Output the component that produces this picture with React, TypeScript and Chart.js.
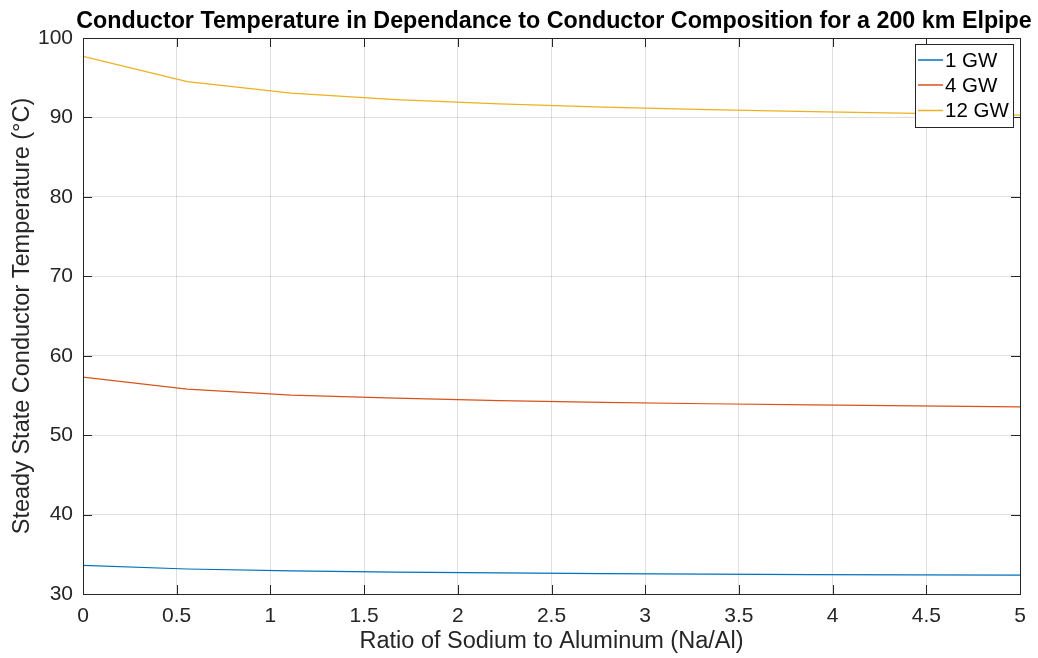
import React, { useEffect, useRef } from "react";
import { Chart, registerables } from "chart.js";

Chart.register(...registerables);

const ratioNaAl = [0, 0.556, 1.111, 1.667, 2.222, 2.778, 3.333, 3.889, 4.444, 5];
const temp1GW = [33.6, 33.15, 32.9, 32.75, 32.65, 32.57, 32.5, 32.45, 32.42, 32.38];
const temp4GW = [57.3, 55.8, 55.05, 54.65, 54.35, 54.12, 53.95, 53.8, 53.68, 53.55];
const temp12GW = [97.7, 94.5, 93.05, 92.25, 91.7, 91.3, 90.98, 90.72, 90.5, 90.3];

const seriesLabels = ["1 GW", "4 GW", "12 GW"];
const seriesColors = ["#0072BD", "#D95319", "#EDB120"];

const chartTitle = "Conductor Temperature in Dependance to Conductor Composition for a 200 km Elpipe";
const xTitle = "Ratio of Sodium to Aluminum (Na/Al)";
const yTitle = "Steady State Conductor Temperature (°C)";

const FONT = "'Liberation Sans', Arial, sans-serif";
const AX = "#262626";

const decorPlugin = {
  id: "matlabDecor",
  afterDatasetsDraw(chart: any) {
    const { ctx, chartArea: a, scales } = chart;
    const xs = scales.x;
    const ys = scales.y;
    ctx.save();
    ctx.strokeStyle = AX;
    ctx.lineWidth = 1;
    const tl = 9;
    ctx.beginPath();
    xs.ticks.forEach((t: any) => {
      const px = Math.round(xs.getPixelForValue(t.value)) + 0.5;
      ctx.moveTo(px, a.bottom);
      ctx.lineTo(px, a.bottom - tl);
      ctx.moveTo(px, a.top);
      ctx.lineTo(px, a.top + tl);
    });
    ys.ticks.forEach((t: any) => {
      const py = Math.round(ys.getPixelForValue(t.value)) + 0.5;
      ctx.moveTo(a.left, py);
      ctx.lineTo(a.left + tl, py);
      ctx.moveTo(a.right, py);
      ctx.lineTo(a.right - tl, py);
    });
    ctx.stroke();
    ctx.strokeRect(Math.round(a.left) + 0.5, Math.round(a.top) + 0.5, Math.round(a.right - a.left), Math.round(a.bottom - a.top));
    ctx.restore();
  },
  afterDraw(chart: any) {
    const { ctx, chartArea: a } = chart;
    ctx.save();
    // title
    ctx.fillStyle = "#000";
    ctx.font = `bold 20px ${FONT}`;
    const w20 = ctx.measureText(chartTitle).width;
    const size = (20 * 956) / w20;
    ctx.font = `bold ${size.toFixed(2)}px ${FONT}`;
    ctx.textAlign = "center";
    ctx.textBaseline = "alphabetic";
    ctx.fillText(chartTitle, 554, 28);
    // axis titles
    ctx.fillStyle = AX;
    ctx.font = `23.5px ${FONT}`;
    ctx.fillText(xTitle, (a.left + a.right) / 2, 648);
    ctx.save();
    ctx.translate(29, (a.top + a.bottom) / 2);
    ctx.rotate(-Math.PI / 2);
    ctx.fillText(yTitle, 0, 0);
    ctx.restore();
    // legend
    const lx = 915, ly = 44, lw = 98, lh = 83;
    ctx.fillStyle = "#fff";
    ctx.fillRect(lx, ly, lw, lh);
    ctx.strokeStyle = AX;
    ctx.lineWidth = 1;
    ctx.strokeRect(lx + 0.5, ly + 0.5, lw, lh);
    const rows = [60, 85, 110.5];
    ctx.font = `20.5px ${FONT}`;
    ctx.textAlign = "left";
    ctx.textBaseline = "middle";
    chart.data.datasets.forEach((ds: any, i: number) => {
      const y = rows[i];
      ctx.strokeStyle = ds.borderColor;
      ctx.lineWidth = 1.5;
      ctx.beginPath();
      ctx.moveTo(918, y);
      ctx.lineTo(943, y);
      ctx.stroke();
      ctx.fillStyle = "#000";
      ctx.fillText(ds.label, 945, y + 1);
    });
    ctx.restore();
  },
};

export default function App() {
  const ref = useRef<HTMLCanvasElement | null>(null);
  useEffect(() => {
    if (!ref.current) return;
    const mk = (vals: number[]) => ratioNaAl.map((x, i) => ({ x, y: vals[i] }));
    const data = [temp1GW, temp4GW, temp12GW];
    const chart = new Chart(ref.current, {
      type: "line",
      data: {
        datasets: data.map((vals, i) => ({
          label: seriesLabels[i],
          data: mk(vals),
          borderColor: seriesColors[i],
          backgroundColor: seriesColors[i],
          borderWidth: 1.2,
          pointRadius: 0,
          tension: 0,
          fill: false,
        })),
      },
      options: {
        animation: false,
        responsive: true,
        maintainAspectRatio: false,
        layout: { padding: { top: 38, right: 18, left: 0, bottom: 0 } },
        plugins: { legend: { display: false }, title: { display: false }, tooltip: { enabled: false } },
        scales: {
          x: {
            type: "linear",
            min: 0,
            max: 5,
            ticks: {
              stepSize: 0.5,
              color: AX,
              font: { family: FONT, size: 21 },
              padding: 10,
              maxRotation: 0,
              callback: (v: any) => String(Math.round(Number(v) * 10) / 10),
            },
            grid: { color: "rgba(38,38,38,0.15)", drawTicks: false },
            border: { display: false },
            afterFit: (s: any) => { s.height = 64; s.paddingRight = 0; s.paddingLeft = 0; },
          },
          y: {
            type: "linear",
            min: 30,
            max: 100,
            ticks: { stepSize: 10, color: AX, font: { family: FONT, size: 21 }, padding: 10 },
            grid: { color: "rgba(38,38,38,0.15)", drawTicks: false },
            border: { display: false },
            afterFit: (s: any) => { s.width = 83; s.paddingTop = 0; s.paddingBottom = 0; },
          },
        },
      },
      plugins: [decorPlugin],
    });
    return () => chart.destroy();
  }, []);
  return (
    <div style={{ position: "absolute", left: 0, top: 0, width: 1038, height: 658, background: "#fff" }}>
      <canvas ref={ref} />
    </div>
  );
}
